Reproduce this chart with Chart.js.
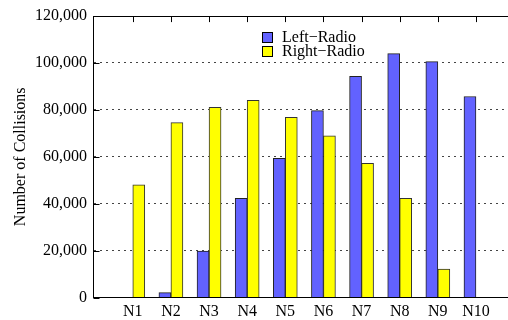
<!DOCTYPE html>
<html>
<head>
<meta charset="utf-8">
<script src="https://cdn.jsdelivr.net/npm/chart.js@4/dist/chart.umd.min.js"></script>
<style>
  body { margin: 0; background: #fff; }
  #wrap { width: 508px; height: 320px; }
</style>
</head>
<body>
<div id="wrap"><canvas id="collisionChart" width="508" height="320"></canvas></div>
<script>
const categories = ['N1', 'N2', 'N3', 'N4', 'N5', 'N6', 'N7', 'N8', 'N9', 'N10'];
const leftRadio = [0, 2100, 19800, 42300, 59300, 79700, 94300, 104000, 100600, 85700];
const rightRadio = [48000, 74600, 81100, 84100, 76800, 68900, 57200, 42300, 12100, 0];
const yTicks = [0, 20000, 40000, 60000, 80000, 100000, 120000];

const serif = 'Liberation Serif';

// gnuplot style frame: top line, inward ticks and a boxed legend
const framePlugin = {
    id: 'frame',
    afterDraw(chart) {
        const ctx = chart.ctx;
        const area = chart.chartArea;
        const xs = chart.scales.x;
        const ys = chart.scales.y;
        ctx.save();
        ctx.strokeStyle = '#000';
        ctx.lineWidth = 1;
        ctx.beginPath();
        ctx.moveTo(area.left, Math.round(area.top) + 0.5);
        ctx.lineTo(area.right, Math.round(area.top) + 0.5);
        xs.ticks.forEach(t => {
            const px = Math.round(xs.getPixelForValue(t.value)) + 0.5;
            ctx.moveTo(px, area.top);
            ctx.lineTo(px, area.top + 6);
        });
        ys.ticks.forEach(t => {
            const py = Math.round(ys.getPixelForValue(t.value)) + 0.5;
            ctx.moveTo(area.left, py);
            ctx.lineTo(area.left + 6, py);
        });
        ctx.stroke();

        // legend
        ctx.font = '16px "' + serif + '"';
        ctx.textBaseline = 'middle';
        ctx.fillStyle = '#000';
        chart.data.datasets.forEach((ds, i) => {
            const y = 32 + i * 14;
            ctx.fillStyle = ds.backgroundColor;
            ctx.fillRect(262.5, y + 0.5, 10, 10);
            ctx.strokeStyle = '#000';
            ctx.strokeRect(262.5, y + 0.5, 10, 10);
            ctx.fillStyle = '#000';
            ctx.fillText(ds.label, 282, y + 5.5);
        });
        ctx.restore();
    }
};

document.addEventListener("DOMContentLoaded", function () {
    const ctx = document.getElementById('collisionChart').getContext('2d');
    new Chart(ctx, {
        type: 'bar',
        data: {
            datasets: [{
                label: 'Left\u2212Radio',
                data: categories.map((c, i) => ({ x: i + 1, y: leftRadio[i] })),
                backgroundColor: '#6262ff',
                borderColor: '#222',
                borderWidth: 1,
                barThickness: 12
            }, {
                label: 'Right\u2212Radio',
                data: categories.map((c, i) => ({ x: i + 1, y: rightRadio[i] })),
                backgroundColor: '#ffff00',
                borderColor: '#333',
                borderWidth: 1,
                barThickness: 12
            }]
        },
        options: {
            responsive: false,
            animation: false,
            layout: { padding: { top: 16, right: 0, bottom: -5.5, left: 12.5 } },
            plugins: {
                legend: { display: false },
                tooltip: { enabled: false }
            },
            scales: {
                x: {
                    type: 'linear',
                    offset: false,
                    min: -0.03,
                    max: 10.84,
                    afterBuildTicks: axis => {
                        axis.ticks = categories.map((c, i) => ({ value: i + 1 }));
                    },
                    grid: { display: false, drawTicks: false, offset: false },
                    border: { display: true, color: '#000', width: 1 },
                    ticks: {
                        autoSkip: false,
                        maxRotation: 0,
                        padding: 6,
                        color: '#000',
                        font: { family: serif, size: 16, lineHeight: 1 },
                        callback: v => categories[v - 1]
                    }
                },
                y: {
                    min: 0,
                    max: 120000,
                    afterBuildTicks: axis => {
                        axis.ticks = yTicks.map(v => ({ value: v }));
                    },
                    grid: { color: '#444', lineWidth: 1, drawTicks: false },
                    border: { display: true, color: '#000', width: 1, dash: [2, 4] },
                    ticks: {
                        padding: 6.5,
                        color: '#000',
                        font: { family: serif, size: 16 },
                        callback: v => v.toLocaleString('en-US')
                    },
                    title: {
                        display: true,
                        text: 'Number of Collisions',
                        color: '#000',
                        font: { family: serif, size: 16, lineHeight: 1 },
                        padding: { top: 0, bottom: 0 }
                    }
                }
            }
        },
        plugins: [framePlugin]
    });
});
</script>
</body>
</html>
